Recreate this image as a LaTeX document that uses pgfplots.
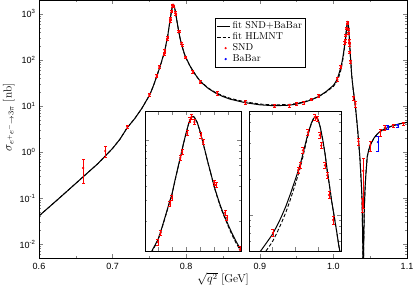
\documentclass[border=0pt]{standalone}
\usepackage{fontspec}
\usepackage{pgfplots}
\usepackage{pgfplotstable}
\pgfplotsset{compat=1.18}
\newfontfamily\ticksf{Liberation Sans}
\pgfplotsset{shortleg/.style={legend image code/.code={\draw[##1] (0pt,0pt) -- (13pt,0pt);}}}

\pgfplotstableread{
x s d
0.600 0.041 0.041
0.620 0.078 0.078
0.640 0.150 0.150
0.660 0.290 0.290
0.680 0.560 0.560
0.700 1.20 1.20
0.710 1.90 1.90
0.720 3.40 3.40
0.730 5.30 5.30
0.740 9.00 9.00
0.750 17.0 17.0
0.752 20.0 20.0
0.754 24.0 24.0
0.756 29.0 29.0
0.758 36.0 36.0
0.760 44.0 44.0
0.762 55.0 55.0
0.764 68.0 68.0
0.766 86.0 85.0
0.768 112 110
0.769 124 122
0.770 138 136
0.771 162 160
0.772 195 192
0.773 235 232
0.774 285 282
0.775 340 337
0.776 440 436
0.777 560 556
0.778 710 705
0.779 910 905
0.780 1140 1135
0.781 1400 1395
0.7815 1500 1497
0.782 1580 1578
0.7825 1600 1598
0.783 1570 1568
0.784 1420 1418
0.785 1190 1185
0.786 960 955
0.787 770 765
0.788 615 610
0.789 500 495
0.790 400 396
0.791 335 330
0.792 282 277
0.793 242 237
0.794 212 207
0.795 186 181
0.796 164 159
0.797 146 141
0.798 131 127
0.799 119 115
0.800 109 106
0.805 75 74
0.810 55 55
0.815 42 42
0.820 33 33.5
0.830 24 24.5
0.840 19 19.5
0.850 16 16.6
0.860 14 14.6
0.880 11.8 12.3
0.900 10.6 11.0
0.920 10.1 10.5
0.940 10.4 10.8
0.950 11.0 11.3
0.960 12.0 12.3
0.970 13.6 13.8
0.980 16.0 16.0
0.990 20.5 20.0
1.000 28.0 26.5
1.003 33.0 31.0
1.005 38 34
1.006 42 37
1.007 47 41
1.008 53 46
1.009 60 52
1.010 68 59
1.011 80 70
1.012 96 85
1.013 118 105
1.014 150 135
1.015 195 178
1.0155 222 205
1.016 255 238
1.0165 300 283
1.017 360 342
1.0175 430 415
1.018 505 492
1.0185 580 570
1.019 640 635
1.0195 665 662
1.020 630 630
1.0205 540 540
1.021 430 430
1.0215 330 330
1.022 235 235
1.0225 175 175
1.023 128 128
1.0235 98 98
1.024 75 75
1.0245 56 56
1.025 44 44
1.027 22 22
1.029 13 13
1.031 6.5 6.5
1.033 3.0 3.0
1.034 1.9 1.9
1.036 0.75 0.75
1.038 0.20 0.20
1.039 0.085 0.085
1.040 0.008 0.008
1.0405 0.0002 0.0002
1.041 0.007 0.007
1.042 0.060 0.060
1.043 0.16 0.16
1.044 0.31 0.31
1.046 0.80 0.80
1.048 1.10 1.10
1.050 1.40 1.40
1.055 2.00 2.00
1.060 2.50 2.50
1.065 2.90 2.90
1.070 3.20 3.20
1.080 3.70 3.70
1.090 4.10 4.10
1.100 4.40 4.40
}\curve

\pgfplotstableread{
x y
0.660 0.45
0.690 1.05
0.720 3.6
0.750 17.5
0.760 45
0.7635 70
0.7700 132
0.7710 158
0.7743 281
0.7750 315
0.7780 700
0.7786 790
0.7804 1150
0.7814 1490
0.7820 1580
0.7830 1430
0.7853 1100
0.7861 960
0.7900 426
0.7907 410
0.7939 235
0.7946 213
0.7992 113
0.809 55
0.819 33
0.842 19
0.880 12
0.920 10
0.940 10.3
0.950 11.2
0.960 12
0.970 14
0.980 16.5
1.005 38
1.0102 71
1.0157 237
1.0161 260
1.0167 347
1.0178 490
1.0193 660
1.0198 640
1.0204 464
1.0207 380
1.0215 260
1.0220 215
1.0224 147
1.0233 91
1.0275 15
1.0300 11
1.0340 1.7
1.0395 0.075
1.0405 0.39
1.0500 1.4
1.0635 2.7
1.0700 3.4
1.0810 3.8
1.0950 4.2
}\snd

\pgfplotstableread{
x y
0.660 0.21
0.660 0.69
0.660 nan
0.690 0.77
0.690 1.33
0.690 nan
0.720 3.3
0.720 3.9
0.720 nan
0.750 16
0.750 19
0.750 nan
0.760 42
0.760 48
0.760 nan
0.7635 65
0.7635 75
0.7635 nan
0.7700 124
0.7700 140
0.7700 nan
0.7710 149
0.7710 167
0.7710 nan
0.7743 266
0.7743 296
0.7743 nan
0.7750 299
0.7750 331
0.7750 nan
0.7780 665
0.7780 735
0.7780 nan
0.7786 750
0.7786 830
0.7786 nan
0.7804 1095
0.7804 1205
0.7804 nan
0.7814 1420
0.7814 1560
0.7814 nan
0.7820 1505
0.7820 1655
0.7820 nan
0.7830 1360
0.7830 1500
0.7830 nan
0.7853 1045
0.7853 1155
0.7853 nan
0.7861 912
0.7861 1008
0.7861 nan
0.7900 404
0.7900 448
0.7900 nan
0.7907 390
0.7907 430
0.7907 nan
0.7939 223
0.7939 247
0.7939 nan
0.7946 202
0.7946 224
0.7946 nan
0.7992 106
0.7992 120
0.7992 nan
0.809 51
0.809 59
0.809 nan
0.819 30.5
0.819 35.5
0.819 nan
0.842 17.5
0.842 20.5
0.842 nan
0.880 11
0.880 13
0.880 nan
0.920 9.2
0.920 10.8
0.920 nan
0.940 9.5
0.940 11.1
0.940 nan
0.950 10.4
0.950 12.0
0.950 nan
0.960 11.1
0.960 12.9
0.960 nan
0.970 13
0.970 15
0.970 nan
0.980 15.3
0.980 17.7
0.980 nan
1.005 35
1.005 41
1.005 nan
1.0102 66
1.0102 76
1.0102 nan
1.0157 222
1.0157 252
1.0157 nan
1.0161 244
1.0161 276
1.0161 nan
1.0167 327
1.0167 367
1.0167 nan
1.0178 462
1.0178 518
1.0178 nan
1.0193 625
1.0193 695
1.0193 nan
1.0198 605
1.0198 675
1.0198 nan
1.0204 439
1.0204 489
1.0204 nan
1.0207 358
1.0207 402
1.0207 nan
1.0215 245
1.0215 275
1.0215 nan
1.0220 202
1.0220 228
1.0220 nan
1.0224 137
1.0224 157
1.0224 nan
1.0233 84
1.0233 98
1.0233 nan
1.0275 13.5
1.0275 16.5
1.0275 nan
1.0300 9.5
1.0300 12.5
1.0300 nan
1.0340 1.4
1.0340 2.0
1.0340 nan
1.0395 0.05
1.0395 0.10
1.0395 nan
1.0405 0.06
1.0405 0.72
1.0405 nan
1.0500 1.05
1.0500 1.75
1.0500 nan
1.0635 2.2
1.0635 3.2
1.0635 nan
1.0700 3.0
1.0700 3.8
1.0700 nan
1.0810 3.5
1.0810 4.1
1.0810 nan
1.0950 3.9
1.0950 4.5
}\sndbars

\pgfplotstableread{
x y
1.0605 1.05
1.0605 2.25
1.0605 nan
1.0740 3.15
1.0740 3.85
1.0740 nan
1.0875 3.5
1.0875 4.1
}\babarbars

\pgfplotstableread{
x y
1.0605 1.65
1.0740 3.5
1.0875 3.8
}\babar

\begin{document}
\begin{tikzpicture}
\begin{axis}[
  scale only axis, width=368pt, height=258pt,
  xmin=0.6, xmax=1.1, ymode=log, ymin=0.005, ymax=2000,
  unbounded coords=jump,
  xtick={0.6,0.7,0.8,0.9,1.0,1.1}, xticklabels={0.6,0.7,0.8,0.9,1.0,1.1},
  minor xtick={0.65,0.75,0.85,0.95,1.05},
  ytick={0.01,0.1,1,10,100,1000},
  yticklabels={10\textsuperscript{-2},10\textsuperscript{-1},10\textsuperscript{0},10\textsuperscript{1},10\textsuperscript{2},10\textsuperscript{3}},
  minor ytick={0.006,0.007,0.008,0.009,0.02,0.03,0.04,0.05,0.06,0.07,0.08,0.09,0.2,0.3,0.4,0.5,0.6,0.7,0.8,0.9,2,3,4,5,6,7,8,9,20,30,40,50,60,70,80,90,200,300,400,500,600,700,800,900,2000},
  tick align=inside, major tick length=4pt, minor tick length=2pt,
  tick style={line width=0.4pt},
  axis line style={line width=0.7pt},
  tick label style={font=\ticksf\fontsize{9}{10}\selectfont},
  xticklabel style={yshift=-1.5pt},
  xlabel={$\sqrt{q^2}$ [GeV]},
  ylabel={$\sigma_{e^+e^-\to3\pi}$ [nb]},
  label style={font=\fontsize{11.5}{13}\selectfont},
  xlabel style={at={(axis description cs:0.5,0)}, anchor=north, yshift=-11pt},
  ylabel style={at={(axis description cs:-0.057,0.545)}, anchor=south},
  legend style={at={(rel axis cs:0.478,0.930)}, anchor=north west,
    font=\fontsize{10}{11}\selectfont, draw=black, cells={anchor=west},
    inner sep=1.5pt, row sep=-1.5pt},
]
\addplot[black, line width=1pt, no marks, shortleg] table[x=x,y=s]{\curve};
\addlegendentry{fit SND+BaBar}
\addplot[black, line width=0.9pt, no marks, dash pattern=on 3.5pt off 2pt, shortleg] table[x=x,y=d]{\curve};
\addlegendentry{fit HLMNT}
\addplot[red, line width=0.5pt, mark=-, mark size=1.5pt, forget plot] table[x=x,y=y]{\sndbars};
\addplot[blue, line width=0.5pt, mark=-, mark size=1.5pt, forget plot] table[x=x,y=y]{\babarbars};
\addplot[only marks, mark=*, mark size=0.9pt, red] table[x=x,y=y]{\snd};
\addlegendentry{SND}
\addplot[only marks, mark=*, mark size=0.9pt, blue] table[x=x,y=y]{\babar};
\addlegendentry{BaBar}
\end{axis}

\begin{axis}[scale only axis, anchor=south west, at={(106pt,7pt)}, width=96pt, height=140pt,
  ymode=log, axis background/.style={fill=white}, unbounded coords=jump,
  tick align=inside, major tick length=4pt, minor tick length=2pt,
  tick style={line width=0.4pt}, axis line style={line width=0.6pt},
  xmin=0.7654, xmax=0.7996, ymin=110, ymax=1780,
  xtick={0.770,0.775,0.780,0.785,0.790,0.795}, xticklabels={},
  ytick={1000}, yticklabels={}, minor ytick={200,300,400,500,600,700,800,900}]
\addplot[black, line width=1pt, no marks] table[x=x,y=s]{\curve};
\addplot[black, line width=0.9pt, no marks, dash pattern=on 3.5pt off 2pt] table[x=x,y=d]{\curve};
\addplot[red, line width=0.5pt, mark=-, mark size=1.5pt] table[x=x,y=y]{\sndbars};
\addplot[only marks, mark=*, mark size=0.9pt, red] table[x=x,y=y]{\snd};
\end{axis}

\begin{axis}[scale only axis, anchor=south west, at={(210pt,7pt)}, width=92pt, height=140pt,
  ymode=log, axis background/.style={fill=white}, unbounded coords=jump,
  tick align=inside, major tick length=4pt, minor tick length=2pt,
  tick style={line width=0.4pt}, axis line style={line width=0.6pt},
  xmin=1.005, xmax=1.025, ymin=50, ymax=740,
  xtick={1.010,1.015,1.020}, xticklabels={},
  ytick={100}, yticklabels={}, minor ytick={50,60,70,80,90,200,300,400,500,600,700}]
\addplot[black, line width=1pt, no marks] table[x=x,y=s]{\curve};
\addplot[black, line width=0.9pt, no marks, dash pattern=on 3.5pt off 2pt] table[x=x,y=d]{\curve};
\addplot[red, line width=0.5pt, mark=-, mark size=1.5pt] table[x=x,y=y]{\sndbars};
\addplot[only marks, mark=*, mark size=0.9pt, red] table[x=x,y=y]{\snd};
\end{axis}
\pgfresetboundingbox
\path[use as bounding box] (-39pt,-28pt) rectangle (375pt,258pt);
\end{tikzpicture}
\end{document}
